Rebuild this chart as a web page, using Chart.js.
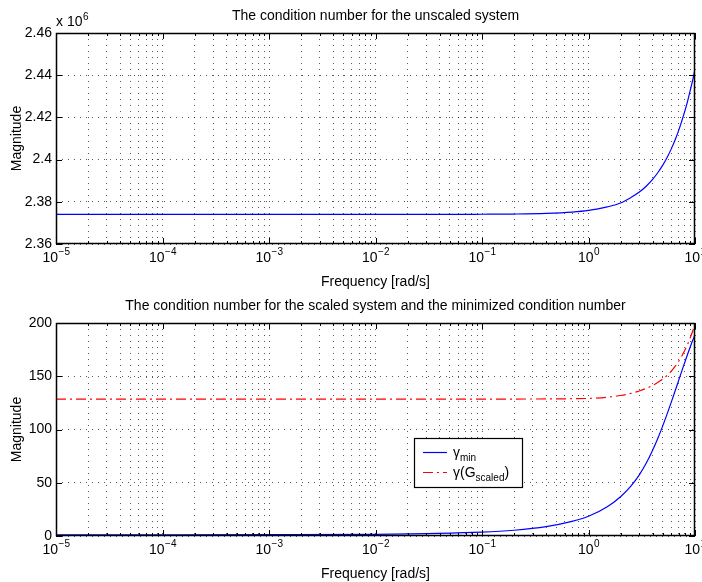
<!DOCTYPE html>
<html>
<head>
<meta charset="utf-8">
<script src="https://cdn.jsdelivr.net/npm/chart.js@4.4.1/dist/chart.umd.min.js"></script>
<style>
    html, body { margin: 0; padding: 0; background: #fff; }
    #wrap { position: relative; width: 702px; height: 582px; }
    canvas { position: absolute; left: 0; }
    #cUnscaled { top: 0; }
    #cScaled { top: 290px; }
</style>
</head>
<body>
<div id="wrap">
    <canvas id="cUnscaled" width="702" height="290"></canvas>
    <canvas id="cScaled" width="702" height="292"></canvas>
</div>
<script>
// frequency samples [rad/s]
const freq = [1e-5, 1e-4, 1e-3, 1e-2, 0.03, 0.1, 0.2, 0.4, 0.7,
    1, 1.5, 2, 2.5, 3, 3.5, 4, 4.5, 5, 5.5, 6, 6.5, 7, 7.5, 8, 8.5, 9, 9.5, 10];

// condition number of the unscaled plant (x 10^6)
const condUnscaled = [2.3740, 2.3740, 2.3740, 2.3740, 2.3740, 2.3741, 2.3742, 2.3745, 2.3751,
    2.3759, 2.3776, 2.3794, 2.3820, 2.3846, 2.3875, 2.3906, 2.3940, 2.3975, 2.4012,
    2.4052, 2.4093, 2.4136, 2.4181, 2.4227, 2.4275, 2.4326, 2.4375, 2.4428];

// minimized condition number
const gammaMin = [1.0, 1.05, 1.2, 1.6, 2.3, 3.6, 5.4, 8.8, 13.7,
    18.5, 27.5, 36.9, 46.8, 57.4, 68.7, 80.5, 92.3, 103.9, 115.1,
    125.9, 136.1, 145.7, 154.6, 162.8, 170.4, 177.3, 183.5, 189.0];

// condition number of the scaled plant
const gammaScaled = [128.5, 128.5, 128.5, 128.5, 128.5, 128.5, 128.6, 128.7, 128.9,
    129.2, 130.3, 131.9, 133.9, 136.2, 138.7, 141.4, 144.3, 147.5, 151.0,
    154.9, 159.2, 163.8, 168.8, 174.2, 179.8, 185.8, 192.2, 199.0];

const decades = [-5, -4, -3, -2, -1, 0, 1];
const unscaledTicks = [2.36, 2.38, 2.40, 2.42, 2.44, 2.46];
const scaledTicks = [0, 50, 100, 150, 200];

const FONT = '"Liberation Sans", Arial, Helvetica, sans-serif';
const font = (sz) => sz + 'px ' + FONT;

const toPoints = (ys) => freq.map((f, i) => ({ x: f, y: ys[i] }));

// base text with a raised exponent, e.g. 10^-3
function drawPow(ctx, x, y, base, exp, align) {
    ctx.font = font(14);
    const wb = ctx.measureText(base).width;
    ctx.font = font(10);
    const we = ctx.measureText(exp).width;
    const x0 = align === 'center' ? x - (wb + we) / 2 : x;
    ctx.textAlign = 'left';
    ctx.font = font(14);
    ctx.fillText(base, x0, y);
    ctx.font = font(10);
    ctx.fillText(exp, x0 + wb + 0.5, y - 6);
}

// text with _{...} parts drawn as subscripts, returns end x
function drawSub(ctx, x, y, text) {
    const parts = text.split(/(_\{[^}]*\})/).filter(p => p.length);
    ctx.textAlign = 'left';
    parts.forEach(p => {
        if (p.startsWith('_{')) {
            const s = p.slice(2, -1);
            ctx.font = font(10);
            ctx.fillText(s, x, y + 4);
            x += ctx.measureText(s).width;
        } else {
            ctx.font = font(14);
            ctx.fillText(p, x, y);
            x += ctx.measureText(p).width;
        }
    });
    return x;
}

function logTicks(scale) {
    const ticks = [];
    for (let e = decades[0]; e < decades[decades.length - 1]; e++) {
        for (let m = 1; m <= 9; m++) ticks.push({ value: m * Math.pow(10, e), major: m === 1 });
    }
    ticks.push({ value: Math.pow(10, decades[decades.length - 1]), major: true });
    scale.ticks = ticks;
}

// axes box, inward ticks, labels and an optional legend
function makeFrame(cfg) {
    return {
        id: 'frame',
        afterDraw(chart) {
            const ctx = chart.ctx;
            const ca = chart.chartArea;
            const xs = chart.scales.x, ys = chart.scales.y;
            ctx.save();
            ctx.fillStyle = '#000';
            ctx.strokeStyle = '#000';

            // box
            ctx.lineWidth = 1.5;
            ctx.strokeRect(Math.round(ca.left) + 0.5, Math.round(ca.top) + 0.5,
                Math.round(ca.right - ca.left) - 1, Math.round(ca.bottom - ca.top) - 1);

            // x ticks, top and bottom, pointing inwards
            ctx.lineWidth = 1;
            ctx.beginPath();
            xs.ticks.forEach(t => {
                const px = Math.round(xs.getPixelForValue(t.value)) + 0.5;
                const len = t.major ? 6 : 3;
                ctx.moveTo(px, ca.bottom); ctx.lineTo(px, ca.bottom - len);
                ctx.moveTo(px, ca.top); ctx.lineTo(px, ca.top + len);
            });
            ys.ticks.forEach(t => {
                const py = Math.round(ys.getPixelForValue(t.value)) + 0.5;
                ctx.moveTo(ca.left, py); ctx.lineTo(ca.left + 6, py);
                ctx.moveTo(ca.right, py); ctx.lineTo(ca.right - 6, py);
            });
            ctx.stroke();

            // x tick labels
            ctx.textBaseline = 'middle';
            decades.forEach(e => {
                const px = xs.getPixelForValue(Math.pow(10, e));
                drawPow(ctx, px, ca.bottom + 14, '10', String(e).replace('-', '\u2212'), 'center');
            });

            // y tick labels
            ctx.font = font(14);
            ctx.textAlign = 'right';
            ys.ticks.forEach(t => {
                const py = ys.getPixelForValue(t.value);
                ctx.fillText(String(Number(t.value.toFixed(2))), ca.left - 4, py);
            });

            // multiplier above the y axis
            if (cfg.mult) {
                ctx.textBaseline = 'alphabetic';
                drawPow(ctx, ca.left, ca.top - 7, 'x 10', cfg.mult, 'left');
            }

            // title and axis labels
            const cx = (ca.left + ca.right) / 2;
            ctx.textBaseline = 'alphabetic';
            ctx.textAlign = 'center';
            ctx.font = font(14);
            ctx.fillText(cfg.title, cx, ca.top - 13);
            ctx.fillText('Frequency [rad/s]', cx, ca.bottom + 42);
            ctx.save();
            ctx.translate(17, (ca.top + ca.bottom) / 2);
            ctx.rotate(-Math.PI / 2);
            ctx.textBaseline = 'middle';
            ctx.fillText('Magnitude', 0, 0);
            ctx.restore();

            // legend
            if (cfg.legend) {
                const lx = ca.left + cfg.legend.x, ly = ca.top + cfg.legend.y;
                const w = cfg.legend.w, h = cfg.legend.h;
                ctx.fillStyle = '#fff';
                ctx.fillRect(lx, ly, w, h);
                ctx.lineWidth = 1.2;
                ctx.strokeStyle = '#000';
                ctx.strokeRect(lx + 0.5, ly + 0.5, w, h);
                chart.data.datasets.forEach((ds, i) => {
                    const yy = ly + 14.5 + i * 20;
                    ctx.beginPath();
                    ctx.strokeStyle = ds.borderColor;
                    ctx.lineWidth = ds.borderWidth;
                    ctx.setLineDash(ds.borderDash || []);
                    ctx.moveTo(lx + 9, yy);
                    ctx.lineTo(lx + 33, yy);
                    ctx.stroke();
                    ctx.setLineDash([]);
                    ctx.fillStyle = '#000';
                    ctx.textBaseline = 'alphabetic';
                    drawSub(ctx, lx + 39, yy + 4, ds.label);
                });
            }
            ctx.restore();
        }
    };
}

const gridStyle = {
    color: 'rgba(0,0,0,0.65)',
    lineWidth: 1,
    drawTicks: false,
    tickLength: 0,
};

function makeChart(id, datasets, yMin, yMax, yTicks, pad, frameCfg) {
    return new Chart(document.getElementById(id), {
        type: 'line',
        data: { datasets },
        options: {
            responsive: false,
            animation: false,
            layout: { padding: pad },
            plugins: { legend: { display: false }, tooltip: { enabled: false } },
            elements: { point: { radius: 0 } },
            scales: {
                x: {
                    type: 'logarithmic',
                    min: Math.pow(10, decades[0]),
                    max: Math.pow(10, decades[decades.length - 1]),
                    afterBuildTicks: logTicks,
                    ticks: { display: false },
                    grid: gridStyle,
                    border: { display: false, dash: [1, 5] },
                },
                y: {
                    type: 'linear',
                    min: yMin,
                    max: yMax,
                    afterBuildTicks: (scale) => { scale.ticks = yTicks.map(v => ({ value: v })); },
                    ticks: { display: false },
                    grid: gridStyle,
                    border: { display: false, dash: [1, 5] },
                },
            },
        },
        plugins: [makeFrame(frameCfg)],
    });
}

makeChart('cUnscaled', [{
    label: 'cond',
    data: toPoints(condUnscaled),
    borderColor: '#0000ff',
    borderWidth: 1.2,
    cubicInterpolationMode: 'monotone',
}], 2.36, 2.46, unscaledTicks, { left: 56, right: 7, top: 33, bottom: 46 }, {
    title: 'The condition number for the unscaled system',
    mult: '6',
});

makeChart('cScaled', [{
    label: '\u03b3_{min}',
    data: toPoints(gammaMin),
    borderColor: '#0000ff',
    borderWidth: 1.2,
    cubicInterpolationMode: 'monotone',
}, {
    label: '\u03b3(G_{scaled})',
    data: toPoints(gammaScaled),
    borderColor: '#ff0000',
    borderWidth: 1.2,
    borderDash: [10, 4, 2, 4],
    cubicInterpolationMode: 'monotone',
}], 0, 200, scaledTicks, { left: 56, right: 7, top: 33, bottom: 46 }, {
    title: 'The condition number for the scaled system and the minimized condition number',
    legend: { x: 358, y: 115, w: 108, h: 49 },
});
</script>
</body>
</html>
